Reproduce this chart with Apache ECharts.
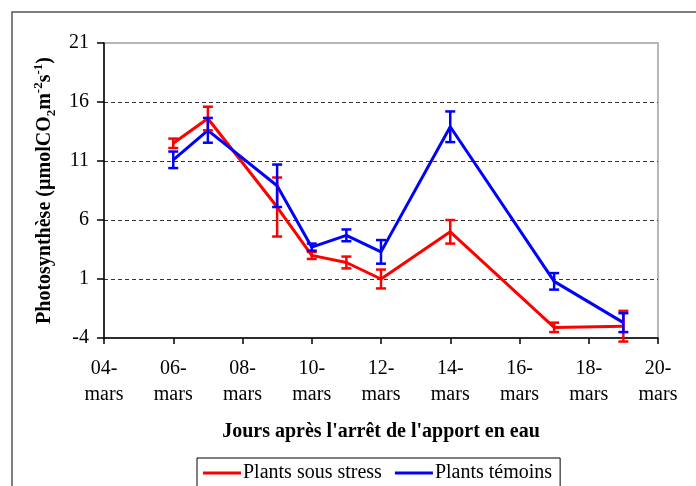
<!DOCTYPE html>
<html>
<head>
<meta charset="utf-8">
<script src="https://cdn.jsdelivr.net/npm/echarts@6/dist/echarts.min.js"></script>
<style>
  html, body { margin: 0; padding: 0; background: #fff; }
  #chart { width: 696px; height: 486px; }
</style>
</head>
<body>
<div id="chart"></div>
<script>
// jours de mars
const days = [6, 7, 9, 10, 11, 12, 14, 17, 19];
const stress = [12.5, 14.6, 7.1, 3.0, 2.4, 1.0, 5.0, -3.1, -3.0];
const stressErr = [0.4, 1.0, 2.5, 0.3, 0.5, 0.8, 1.0, 0.4, 1.3];
const temoins = [11.1, 13.6, 8.9, 3.7, 4.7, 3.3, 13.9, 0.8, -2.7];
const temoinsErr = [0.7, 1.05, 1.8, 0.3, 0.5, 1.0, 1.3, 0.7, 0.8];
const seriesNames = ['Plants sous stress', 'Plants témoins'];
const colorArr = ['#ff0000', '#0000ff'];

const serif = '"Liberation Serif", "DejaVu Serif", serif';

function pairs(vals) {
  return days.map((d, i) => [d, vals[i]]);
}
function errData(vals, errs) {
  return days.map((d, i) => [d, vals[i] - errs[i], vals[i] + errs[i]]);
}
function errSeries(vals, errs, color) {
  return {
    type: 'custom',
    data: errData(vals, errs),
    z: 3,
    renderItem: function (params, api) {
      let x = api.value(0);
      let lo = api.coord([x, api.value(1)]);
      let hi = api.coord([x, api.value(2)]);
      let w = 5;
      let style = { stroke: color, lineWidth: 2.5 };
      return {
        type: 'group',
        children: [
          { type: 'line', shape: { x1: lo[0], y1: lo[1], x2: hi[0], y2: hi[1] }, style: style },
          { type: 'line', shape: { x1: lo[0] - w, y1: lo[1], x2: lo[0] + w, y2: lo[1] }, style: style },
          { type: 'line', shape: { x1: hi[0] - w, y1: hi[1], x2: hi[0] + w, y2: hi[1] }, style: style }
        ]
      };
    }
  };
}

let myChart = echarts.init(document.getElementById('chart'));
let option = {
  animation: false,
  backgroundColor: '#fff',
  textStyle: { fontFamily: serif },
  graphic: [{
    type: 'rect',
    shape: { x: 12, y: 12, width: 700, height: 500 },
    style: { fill: 'none', stroke: '#555', lineWidth: 1.5 },
    silent: true
  }],
  grid: {
    left: 104, right: 38, top: 43, bottom: 148,
    show: true,
    borderColor: '#a0a0a0',
    borderWidth: 1.5
  },
  legend: {
    data: seriesNames,
    left: 197,
    top: 458,
    orient: 'horizontal',
    icon: 'rect',
    itemWidth: 38,
    itemHeight: 3,
    itemGap: 13,
    borderColor: '#000',
    borderWidth: 1,
    borderRadius: 0,
    padding: [5, 8, 12, 6],
    textStyle: { fontFamily: serif, fontSize: 20, color: '#000', padding: [0, 0, 0, -3] }
  },
  xAxis: {
    type: 'value',
    min: 4,
    max: 20,
    interval: 2,
    name: "Jours après l'arrêt de l'apport en eau",
    nameLocation: 'middle',
    nameGap: 84,
    nameTextStyle: { fontFamily: serif, fontSize: 20, fontWeight: 'bold', color: '#000' },
    axisLine: { onZero: false, lineStyle: { color: '#000', width: 1.5 } },
    axisTick: { show: true, length: 6, lineStyle: { color: '#000', width: 1.5 } },
    axisLabel: {
      fontFamily: serif, fontSize: 20, color: '#000', margin: 18, lineHeight: 26,
      formatter: v => String(v).padStart(2, '0') + '-\nmars'
    },
    splitLine: { show: false }
  },
  yAxis: {
    type: 'value',
    min: -4,
    max: 21,
    interval: 5,
    name: '{t|Photosynthèse (µmolCO}{s|2}{t|m}{p|-2}{t|s}{p|-1}{t|)}',
    nameLocation: 'middle',
    nameRotate: 90,
    nameGap: 44,
    nameTextStyle: {
      rich: {
        t: { fontFamily: serif, fontSize: 20, fontWeight: 'bold', color: '#000', lineHeight: 26, verticalAlign: 'middle' },
        s: { fontFamily: serif, fontSize: 13, fontWeight: 'bold', color: '#000', verticalAlign: 'bottom', lineHeight: 26 },
        p: { fontFamily: serif, fontSize: 13, fontWeight: 'bold', color: '#000', verticalAlign: 'top', lineHeight: 26 }
      }
    },
    axisLine: { show: true, onZero: false, lineStyle: { color: '#000', width: 1.5 } },
    axisTick: { show: true, length: 7, lineStyle: { color: '#000', width: 1.5 } },
    axisLabel: { fontFamily: serif, fontSize: 20, color: '#000', margin: 15 },
    splitLine: {
      show: true,
      showMinLine: false,
      showMaxLine: false,
      lineStyle: { color: '#333', type: [4, 3], width: 1 }
    }
  },
  series: [
    {
      name: seriesNames[0],
      type: 'line',
      data: pairs(stress),
      symbol: 'none',
      z: 2,
      lineStyle: { color: colorArr[0], width: 3 },
      itemStyle: { color: colorArr[0] }
    },
    errSeries(stress, stressErr, colorArr[0]),
    {
      name: seriesNames[1],
      type: 'line',
      data: pairs(temoins),
      symbol: 'none',
      z: 2,
      lineStyle: { color: colorArr[1], width: 3 },
      itemStyle: { color: colorArr[1] }
    },
    errSeries(temoins, temoinsErr, colorArr[1])
  ]
};
myChart.setOption(option);
</script>
</body>
</html>
